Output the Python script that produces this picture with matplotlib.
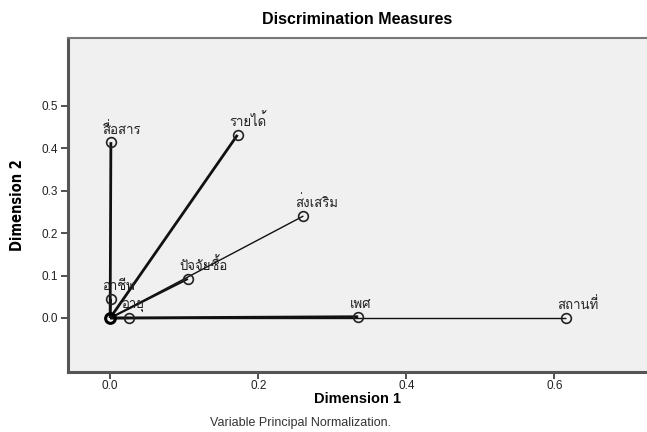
import matplotlib
matplotlib.use('Agg')
import matplotlib.pyplot as plt
from matplotlib import font_manager, ft2font

# ข้อมูล discrimination measures (อ่านค่าจากกราฟ)
variables = ['สื่อสาร', 'รายได้', 'ส่งเสริม', 'ปัจจัยซื้อ', 'อาชีพ', 'อายุ', 'เพศ', 'สถานที่']
dim1 = [0.001, 0.172, 0.261, 0.105, 0.001, 0.026, 0.335, 0.615]
dim2 = [0.414, 0.431, 0.240, 0.092, 0.045, 0.000, 0.003, 0.000]
line_w = [2.0, 2.0, 1.0, 1.5, 1.6, 1.6, 2.0, 1.0]

# หา font ที่มีอักษรไทย
thai_font = None
for f in font_manager.fontManager.ttflist:
    try:
        if ord('ก') in ft2font.FT2Font(f.fname).get_charmap():
            thai_font = f.name
            break
    except Exception:
        pass
fams = ([thai_font] if thai_font else []) + ['DejaVu Sans']

plt.rcParams['font.family'] = ['Liberation Sans', 'DejaVu Sans']

fig = plt.figure(figsize=(6.47, 4.32), dpi=100)
ax = fig.add_axes([0.105, 0.139, 0.895, 0.773])
ax.set_facecolor('#f0f0f0')

for x, y, lw in zip(dim1, dim2, line_w):
    ax.plot([0, x], [0, y], color='#111111', lw=lw, solid_capstyle='butt', zorder=2)
ax.plot(dim1, dim2, 'o', ms=7, mfc='none', mec='#222222', mew=1.2, zorder=3)
ax.plot([0], [0], 'o', ms=7, mfc='none', mec='#000000', mew=2.2, zorder=3)

for name, x, y in zip(variables, dim1, dim2):
    ax.annotate(name, (x, y), xytext=(-6, 4), textcoords='offset points',
                ha='left', va='bottom', fontsize=9.5, family=fams, color='#222222')

ax.set_xlim(-0.057, 0.725)
ax.set_ylim(-0.127, 0.659)
ax.set_xticks([0.0, 0.2, 0.4, 0.6])
ax.set_yticks([0.0, 0.1, 0.2, 0.3, 0.4, 0.5])
ax.xaxis.set_major_formatter(matplotlib.ticker.FormatStrFormatter('%.1f'))
ax.yaxis.set_major_formatter(matplotlib.ticker.FormatStrFormatter('%.1f'))
ax.tick_params(direction='out', length=5, width=1.2, color='#333333',
               labelsize=8.5, labelcolor='#222222', pad=2)
ax.tick_params(axis='x', pad=0.5)

for s in ['left', 'bottom']:
    ax.spines[s].set_color('#555555')
    ax.spines[s].set_linewidth(2.2)
ax.spines['top'].set_color('#777777')
ax.spines['top'].set_linewidth(1.5)
ax.spines['right'].set_visible(False)

ax.set_title('Discrimination Measures', fontsize=11.5, fontweight='bold', pad=10)
ax.set_xlabel('Dimension 1', fontsize=10.5, fontweight='bold', labelpad=0)
ax.set_ylabel('Dimension 2', fontsize=10.5, fontweight='bold', labelpad=12,
              family=['Liberation Sans Narrow', 'DejaVu Sans'], fontstretch='condensed')

fig.text(300 / 647, 1 - 423 / 432, 'Variable Principal Normalization.',
         ha='center', va='center', fontsize=9, color='#333333')

fig.savefig('out.png', dpi=100)
